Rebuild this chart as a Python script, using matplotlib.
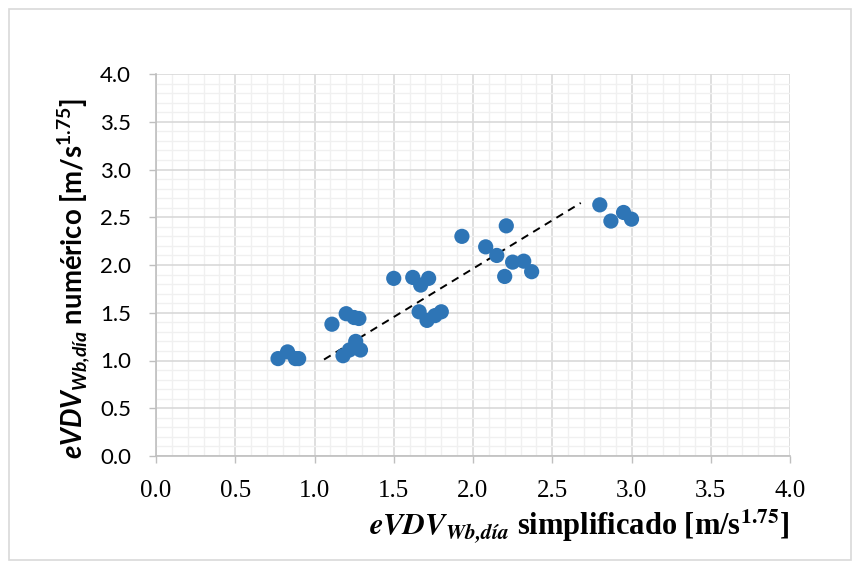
import matplotlib
matplotlib.use('Agg')
import matplotlib.pyplot as plt
from matplotlib.patches import Rectangle
from matplotlib.ticker import MultipleLocator

# eVDV simplificado (x) vs numérico (y)
simplificado = [0.77, 0.83, 0.88, 0.90,
                1.11, 1.20, 1.25, 1.28,
                1.18, 1.22, 1.26, 1.29,
                1.50, 1.62, 1.67, 1.72, 1.66, 1.71, 1.76, 1.80,
                1.93, 2.08, 2.15, 2.21, 2.25, 2.32, 2.37, 2.20,
                2.80, 2.87, 2.95, 3.00]
numerico = [1.02, 1.09, 1.02, 1.02,
            1.38, 1.49, 1.45, 1.44,
            1.05, 1.11, 1.20, 1.11,
            1.86, 1.87, 1.79, 1.86, 1.51, 1.42, 1.47, 1.51,
            2.30, 2.19, 2.10, 2.41, 2.03, 2.04, 1.93, 1.88,
            2.63, 2.46, 2.55, 2.48]

# dashed trend line end points
trend_x = [1.06, 2.68]
trend_y = [1.01, 2.65]

tick_values = [0.0, 0.5, 1.0, 1.5, 2.0, 2.5, 3.0, 3.5, 4.0]
tick_labels = ['0.0', '0.5', '1.0', '1.5', '2.0', '2.5', '3.0', '3.5', '4.0']

# custom math fonts go to the (sans) y label, the x label uses stix (Times-like)
plt.rcParams['mathtext.fontset'] = 'custom'
plt.rcParams['mathtext.bfit'] = 'Lato:italic:bold'
plt.rcParams['mathtext.bf'] = 'Lato:bold'
plt.rcParams['mathtext.rm'] = 'Lato:bold'

W, H = 859, 567
fig = plt.figure(figsize=(W / 100, H / 100), dpi=100)
fig.patch.set_facecolor('white')

# outer chart frame
fig.patches.append(Rectangle((9 / W, 1 - 560 / H), 842 / W, 551 / H,
                             transform=fig.transFigure, fill=False,
                             edgecolor='#d9d9d9', linewidth=1.2))

ax = fig.add_axes([156 / W, 1 - 456 / H, 634 / W, 382 / H])

ax.set_xlim(0, 4)
ax.set_ylim(0, 4)
ax.xaxis.set_minor_locator(MultipleLocator(0.1))
ax.yaxis.set_minor_locator(MultipleLocator(0.1))
ax.set_xticks(tick_values)
ax.set_xticklabels(tick_labels)
ax.set_yticks(tick_values)
ax.set_yticklabels(tick_labels)

ax.grid(True, which='minor', color='#f0f0f0', linewidth=1.0)
ax.grid(True, which='major', color='#d9d9d9', linewidth=1.2)
ax.set_axisbelow(True)

for side in ['top', 'right']:
    ax.spines[side].set_visible(False)
for side in ['left', 'bottom']:
    ax.spines[side].set_color('#bfbfbf')
    ax.spines[side].set_linewidth(1.2)

ax.tick_params(which='major', direction='out', length=5, width=1.0, color='#bfbfbf')
ax.tick_params(axis='x', which='major', pad=12, labelsize=18)
ax.tick_params(axis='y', which='major', pad=13, labelsize=16)
ax.tick_params(which='minor', length=0)
for lbl in ax.get_xticklabels():
    lbl.set_fontfamily('Liberation Serif')
for lbl in ax.get_yticklabels():
    lbl.set_fontfamily('Lato')

ax.plot(trend_x, trend_y, color='black', linestyle=(0, (4, 3)), linewidth=1.4, zorder=2)
ax.scatter(simplificado, numerico, s=120, color='#2e75b6', edgecolors='none', zorder=3)

ax.set_xlabel(r'$\mathbfit{eVDV}_{\mathbfit{Wb{,}día}}$ simplificado [m/s$^{\mathbf{1.75}}$]',
              fontfamily='Liberation Serif', fontweight='bold', fontsize=22,
              math_fontfamily='stix')
ax.xaxis.set_label_coords(0.667, -0.135)

ax.set_ylabel(r'$\mathbfit{eVDV}_{\mathbfit{Wb{,}día}}$ numérico [m/s$^{\mathbf{1.75}}$]',
              fontfamily='Lato', fontweight='bold', fontsize=19.8)
ax.yaxis.set_label_coords(-0.101, 0.464)

fig.savefig('out.png', dpi=100)
